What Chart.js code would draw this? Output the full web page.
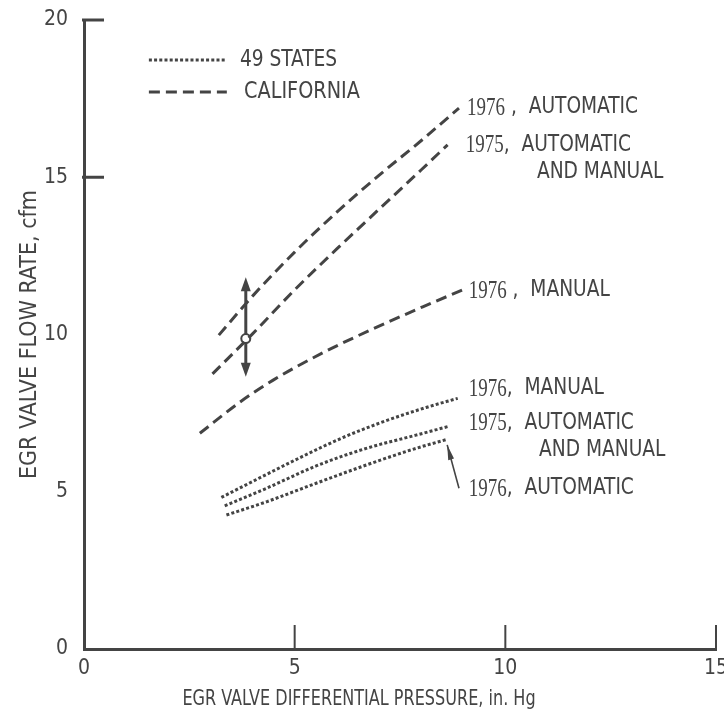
<!DOCTYPE html>
<html>
<head>
<meta charset="utf-8">
<script src="https://cdn.jsdelivr.net/npm/chart.js@4.4.0/dist/chart.umd.min.js"></script>
<style>
  html, body { margin: 0; padding: 0; background: #fff; }
  #wrap { width: 724px; height: 715px; }
</style>
</head>
<body>
<div id="wrap"><canvas id="c" width="724" height="715"></canvas></div>
<script>
// EGR valve flow rate (cfm) against valve differential pressure (in. Hg)
const xTicks = [0, 5, 10, 15];
const yTicks = [0, 5, 10, 15, 20];

// California calibrations
const calAuto76Pressure = [3.2, 4.0, 5.0, 6.0, 7.0, 8.0, 8.9];
const calAuto76Flow     = [9.98, 11.22, 12.62, 13.89, 15.06, 16.16, 17.2];
const cal75Pressure     = [3.05, 4.0, 5.0, 6.0, 7.0, 8.0, 8.63];
const cal75Flow         = [8.75, 10.02, 11.42, 12.72, 13.98, 15.23, 16.03];
const calMan76Pressure  = [2.75, 3.70, 4.49, 5.67, 6.86, 8.04, 8.99];
const calMan76Flow      = [6.86, 7.85, 8.55, 9.42, 10.18, 10.88, 11.42];

// 49-state calibrations
const stMan76Pressure  = [3.26, 4.33, 5.12, 6.14, 7.09, 8.12, 8.87];
const stMan76Flow      = [4.82, 5.55, 6.08, 6.72, 7.22, 7.68, 7.97];
const st75Pressure     = [3.34, 4.33, 5.51, 6.70, 7.88, 8.63];
const st75Flow         = [4.55, 5.11, 5.82, 6.38, 6.80, 7.07];
const stAuto76Pressure = [3.38, 4.33, 5.51, 6.70, 7.88, 8.63];
const stAuto76Flow     = [4.26, 4.68, 5.27, 5.85, 6.38, 6.67];

// tolerance band marker on the 1975 California curve
const bandPressure = 3.84;
const bandNominal  = 9.87;
const bandHigh     = 11.82;
const bandLow      = 8.66;

const INK = '#444444';
const SANS = "'Liberation Sans Narrow','DejaVu Sans Condensed','Liberation Sans',sans-serif";
const SERIF = "'Liberation Serif','DejaVu Serif',serif";

const pts = (xs, ys) => xs.map((v, i) => ({ x: v, y: ys[i] }));

const DASHED = [11, 6];
const DOTTED = [3, 2.2];

function series(label, xs, ys, dash) {
  return {
    label, data: pts(xs, ys), borderColor: INK, borderWidth: 3,
    borderDash: dash, pointRadius: 0, fill: false,
    tension: 0.4, cubicInterpolationMode: 'monotone'
  };
}

// curve captions: [year, rest, x, y] in data units
const captions = [
  ['1976', ' ,  AUTOMATIC', 9.09, 17.23],
  ['1975', ',  AUTOMATIC', 9.06, 16.03],
  ['', 'AND MANUAL', 10.75, 15.17],
  ['1976', ' ,  MANUAL', 9.13, 11.41],
  ['1976', ',  MANUAL', 9.13, 8.30],
  ['1975', ',  AUTOMATIC', 9.13, 7.19],
  ['', 'AND MANUAL', 10.80, 6.33],
  ['1976', ',  AUTOMATIC', 9.13, 5.12]
];

function seg(ctx, x1, y1, x2, y2) {
  ctx.beginPath(); ctx.moveTo(x1, y1); ctx.lineTo(x2, y2); ctx.stroke();
}
function head(ctx, tx, ty, fx, fy, len, half) {
  const ang = Math.atan2(ty - fy, tx - fx);
  ctx.beginPath();
  ctx.moveTo(tx, ty);
  ctx.lineTo(tx - len * Math.cos(ang) + half * Math.sin(ang), ty - len * Math.sin(ang) - half * Math.cos(ang));
  ctx.lineTo(tx - len * Math.cos(ang) - half * Math.sin(ang), ty - len * Math.sin(ang) + half * Math.cos(ang));
  ctx.closePath(); ctx.fill();
}
// text squeezed horizontally by factor sx; returns drawn width
function squeezed(ctx, text, x, y, font, sx) {
  ctx.save();
  ctx.font = font;
  ctx.translate(x, y);
  ctx.scale(sx, 1);
  ctx.fillText(text, 0, 0);
  const w = ctx.measureText(text).width * sx;
  ctx.restore();
  return w;
}

const marks = {
  id: 'marks',
  beforeDatasetsDraw(chart) {
    const { ctx, scales: { x, y } } = chart;
    ctx.save();
    ctx.strokeStyle = INK; ctx.fillStyle = INK;
    // tolerance band arrow
    const bx = x.getPixelForValue(bandPressure);
    const top = y.getPixelForValue(bandHigh), bot = y.getPixelForValue(bandLow);
    ctx.lineWidth = 3;
    seg(ctx, bx, top + 10, bx, bot - 10);
    head(ctx, bx, top, bx, bot, 14, 5);
    head(ctx, bx, bot, bx, top, 14, 5);
    // pointer to the lowest 49-state curve
    const ax1 = x.getPixelForValue(8.90), ay1 = y.getPixelForValue(5.11);
    const ax2 = x.getPixelForValue(8.62), ay2 = y.getPixelForValue(6.49);
    ctx.lineWidth = 1.6;
    seg(ctx, ax1, ay1, ax2, ay2);
    head(ctx, ax2, ay2, ax1, ay1, 15, 3);
    ctx.restore();
  },
  afterDatasetsDraw(chart) {
    const { ctx, chartArea: a, scales: { x, y } } = chart;
    ctx.save();
    ctx.strokeStyle = INK; ctx.fillStyle = INK;
    // inward tick marks
    ctx.lineWidth = 3;
    for (const v of [15, 20]) {
      const py = y.getPixelForValue(v);
      seg(ctx, a.left - 2, py, a.left + 20, py);
    }
    ctx.lineWidth = 2;
    for (const v of [5, 10, 15]) {
      const px = x.getPixelForValue(v);
      seg(ctx, px, a.bottom, px, a.bottom - 24);
    }
    // legend
    ctx.lineWidth = 3;
    const lx1 = x.getPixelForValue(1.54), lx2 = x.getPixelForValue(3.39);
    const ly1 = y.getPixelForValue(18.73), ly2 = y.getPixelForValue(17.71);
    ctx.setLineDash(DOTTED); seg(ctx, lx1, ly1, lx2, ly1);
    ctx.setLineDash(DASHED); seg(ctx, lx1, ly2, lx2, ly2);
    ctx.setLineDash([]);
    ctx.textBaseline = 'middle'; ctx.textAlign = 'left';
    squeezed(ctx, '49 STATES', x.getPixelForValue(3.70), ly1, '23px ' + SANS, 0.9);
    squeezed(ctx, 'CALIFORNIA', x.getPixelForValue(3.80), ly2, '23px ' + SANS, 0.93);
    // curve captions
    for (const [yr, rest, cx, cy] of captions) {
      let px = x.getPixelForValue(cx);
      const py = y.getPixelForValue(cy);
      if (yr) px += squeezed(ctx, yr, px, py + 1, '25px ' + SERIF, 0.76);
      squeezed(ctx, rest, px, py, '23px ' + SANS, 0.9);
    }
    // x axis title
    ctx.textAlign = 'center';
    squeezed(ctx, 'EGR VALVE DIFFERENTIAL PRESSURE, in. Hg', 359, 700, '21px ' + SANS, 0.85);
    ctx.restore();
  }
};

new Chart(document.getElementById('c'), {
  type: 'line',
  data: {
    datasets: [
      series('1976, AUTOMATIC (CALIFORNIA)', calAuto76Pressure, calAuto76Flow, DASHED),
      series('1975, AUTOMATIC AND MANUAL (CALIFORNIA)', cal75Pressure, cal75Flow, DASHED),
      series('1976, MANUAL (CALIFORNIA)', calMan76Pressure, calMan76Flow, DASHED),
      series('1976, MANUAL (49 STATES)', stMan76Pressure, stMan76Flow, DOTTED),
      series('1975, AUTOMATIC AND MANUAL (49 STATES)', st75Pressure, st75Flow, DOTTED),
      series('1976, AUTOMATIC (49 STATES)', stAuto76Pressure, stAuto76Flow, DOTTED),
      {
        type: 'scatter', label: 'nominal', data: [{ x: bandPressure, y: bandNominal }],
        pointRadius: 4.5, pointBackgroundColor: '#fff', pointBorderColor: INK, pointBorderWidth: 2
      }
    ]
  },
  options: {
    responsive: false,
    animation: false,
    devicePixelRatio: 1,
    layout: { padding: { top: 20, right: 8, left: 0, bottom: 0 } },
    plugins: { legend: { display: false }, tooltip: { enabled: false } },
    scales: {
      x: {
        type: 'linear', min: 0, max: 15,
        afterBuildTicks: s => { s.ticks = xTicks.map(v => ({ value: v })); },
        ticks: { color: INK, font: { family: SANS, size: 21 }, padding: 7 },
        grid: { drawOnChartArea: false, drawTicks: false },
        border: { color: INK, width: 3 },
        afterFit: s => { s.height = 66; s.paddingLeft = 0; s.paddingRight = 0; }
      },
      y: {
        min: 0, max: 20,
        afterBuildTicks: s => { s.ticks = yTicks.map(v => ({ value: v })); },
        ticks: { color: INK, font: { family: SANS, size: 21 }, padding: 16 },
        grid: { drawOnChartArea: false, drawTicks: false },
        border: { color: INK, width: 3 },
        title: { display: true, text: 'EGR VALVE FLOW RATE, cfm', color: INK,
                 font: { family: SANS, size: 23 }, padding: { top: 16, bottom: 0 } },
        afterFit: s => { s.width = 84; s.paddingTop = 0; s.paddingBottom = 0; }
      }
    }
  },
  plugins: [marks]
});
</script>
</body>
</html>
